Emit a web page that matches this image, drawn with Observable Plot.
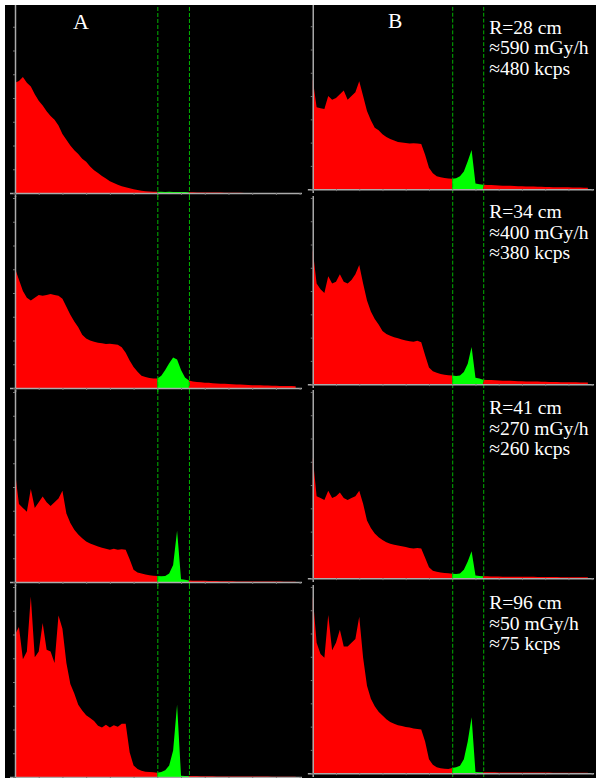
<!DOCTYPE html>
<html><head><meta charset="utf-8">
<script src="https://cdn.jsdelivr.net/npm/d3@7"></script>
<script src="https://cdn.jsdelivr.net/npm/@observablehq/plot@0.6"></script>
<style>
html,body{margin:0;padding:0;background:#fff;}
#wrap{position:relative;width:596px;height:778px;overflow:hidden;background:#000;}
.panel{position:absolute;}
.mask{position:absolute;background:#fff;z-index:5;}
</style></head><body>
<div id="wrap"></div>
<script>
// ---- data ----
const columns = ["A", "B"];
const radii = ["R=28 cm", "R=34 cm", "R=41 cm", "R=96 cm"];
const doseRates = ["≈590 mGy/h", "≈400 mGy/h", "≈270 mGy/h", "≈50 mGy/h"];
const countRates = ["≈480 kcps", "≈380 kcps", "≈260 kcps", "≈75 kcps"];
const windowEdges = [36, 44];           // energy-window limits (channel)
const xTicks = [0, 6, 12, 18, 24, 30, 36, 42, 48, 54, 60, 66, 72];
const yTicks = [0, 12.5, 25, 37.5, 50, 62.5, 75, 87.5, 100];

// spectra, counts in % of panel full scale, channels 0..71
const specA1 = [58, 59, 61, 58, 56, 52, 48.5, 46, 43, 40.5,
  38.5, 35.5, 31, 28, 25, 22.5, 20.5, 18, 16.5, 14,
  12, 10.5, 9, 7.6, 6.2, 5.2, 4.3, 3.6, 3, 2.5,
  2, 1.6, 1.2, 0.9, 0.8, 0.7,
  0.6, 0.6, 0.5, 0.6, 0.5, 0.5, 0.5, 0.5, 0.4,
  0.4, 0.3, 0.3, 0.3, 0.2, 0.2, 0.2, 0.2, 0.1, 0.1, 0.1, 0.1, 0.1, 0, 0, 0, 0, 0, 0, 0, 0, 0, 0, 0, 0, 0, 0];
const specA2 = [63, 57, 51, 47.5, 46, 47.5, 49, 48.5, 49, 49.5,
  49, 48.5, 47, 42.7, 38.5, 35, 32, 28, 26, 25,
  24.3, 23.8, 23.5, 23.2, 23.3, 23, 22.8, 21.5, 18.5, 14.5,
  11, 8.5, 6.5, 5.8, 5.3, 5.0,
  5.0, 6.5, 9.5, 13, 16, 15, 9.5, 5.5, 4.0,
  3.4, 3.2, 3.0, 2.8, 2.7, 2.5, 2.4, 2.3, 2.2, 2.1, 2.0, 1.9, 1.8, 1.7, 1.6, 1.5, 1.5, 1.4, 1.3, 1.3, 1.2, 1.2, 1.1, 1.1, 1.0, 1.0, 0.9];
const specA3 = [58, 41, 39, 37, 49, 39, 42, 45, 42, 40,
  42, 44, 48, 36, 31, 27.5, 25, 23, 21.3, 20.2,
  19.5, 18.7, 18, 17.5, 17, 17.5, 17, 17.3, 17, 12,
  6.5, 5, 4.5, 4, 3.6, 3.3,
  3.1, 3.0, 3.2, 4.5, 9, 27, 1.5, 1.2, 0.8,
  0.7, 0.7, 0.6, 0.6, 0.5, 0.5, 0.5, 0.4, 0.4, 0.4, 0.4, 0.3, 0.3, 0.3, 0.3, 0.3, 0.2, 0.2, 0.2, 0.2, 0.2, 0.2, 0.2, 0.1, 0.1, 0.1, 0.1];
const specA4 = [75, 79, 62, 66, 95, 63, 66, 81, 67, 66,
  60, 85, 78, 60, 49, 44, 38, 35, 32.5, 31,
  29.5, 27, 26, 27.5, 26, 27.2, 26.5, 28, 28, 13,
  6, 4.2, 3.3, 2.8, 2.6, 2.5,
  2.2, 2.6, 3.5, 6, 14, 38, 0.6, 0.5, 0.5,
  0.5, 0.5, 0.4, 0.4, 0.4, 0.4, 0.3, 0.3, 0.3, 0.3, 0.3, 0.3, 0.2, 0.2, 0.2, 0.2, 0.2, 0.2, 0.2, 0.2, 0.1, 0.1, 0.1, 0.1, 0.1, 0.1, 0.1];
const specB1 = [59, 44, 43.5, 43, 50, 48, 49, 51, 53, 48,
  50, 52, 58, 50, 42, 37, 33, 31.6, 29.5, 28,
  27, 26.2, 25.4, 25, 24.8, 24.5, 24.6, 24.5, 24.3, 18.5,
  11.5, 8.5, 7, 6.4, 6, 5.7,
  5.6, 5.8, 7, 9.5, 15, 21, 3, 2.6, 2.4,
  2.3, 2.2, 2.1, 2.0, 1.9, 1.9, 1.8, 1.7, 1.6, 1.6, 1.5, 1.4, 1.4, 1.3, 1.3, 1.2, 1.2, 1.1, 1.1, 1.0, 1.0, 1.0, 0.9, 0.9, 0.9, 0.8, 0.8];
const specB2 = [72, 54, 51, 49, 58, 54, 55, 59, 55, 54,
  56, 59, 64, 54, 45, 39, 35, 32, 28.5, 27,
  26, 25.2, 24.6, 24, 23.5, 23, 22.8, 23.3, 22.5, 15.5,
  9, 7, 6.1, 5.5, 5, 4.8,
  4.6, 4.4, 4.6, 6.5, 11, 20, 3.5, 3, 2.4,
  2.3, 2.2, 2.1, 2.0, 1.9, 1.8, 1.8, 1.7, 1.6, 1.6, 1.5, 1.5, 1.4, 1.4, 1.3, 1.3, 1.2, 1.2, 1.2, 1.1, 1.1, 1.0, 1.0, 1.0, 0.9, 0.9, 0.9];
const specB3 = [65, 44, 43, 42, 47, 43, 44, 46, 43, 42,
  43, 44, 47, 40, 31, 27, 24, 22, 20.5, 19.3,
  18.5, 18, 17.5, 17.2, 16.8, 16.2, 16, 16.2, 16, 11,
  5.8, 4, 3.4, 3.1, 2.8, 2.6,
  2.4, 2.3, 2.5, 4.5, 9, 14.5, 1.5, 1.2, 1.0,
  1.0, 0.9, 0.9, 0.9, 0.8, 0.8, 0.8, 0.8, 0.7, 0.7, 0.7, 0.7, 0.7, 0.6, 0.6, 0.6, 0.6, 0.6, 0.6, 0.5, 0.5, 0.5, 0.5, 0.5, 0.5, 0.5, 0.5];
const specB4 = [95, 70, 64, 62, 85, 66, 70, 77, 68, 68,
  70, 72, 84, 62, 47, 40, 36, 33, 31, 29,
  27.5, 26.5, 25.7, 25.3, 24.8, 24.5, 24, 23.7, 23.5, 17,
  7.5, 4.5, 3.2, 2.7, 2.4, 2.3,
  2.8, 3.2, 4, 7.5, 17, 30, 0.6, 0.5, 0.5,
  0.5, 0.5, 0.5, 0.4, 0.4, 0.4, 0.4, 0.4, 0.3, 0.3, 0.3, 0.3, 0.3, 0.3, 0.3, 0.3, 0.3, 0.2, 0.2, 0.2, 0.2, 0.2, 0.2, 0.2, 0.2, 0.2, 0.2];

const spectraA = [specA1, specA2, specA3, specA4];
const spectraB = [specB1, specB2, specB3, specB4];

// ---- layout / style ----
const RED = "#ff0000", GREEN = "#00ff00", AX = "#ababab", TICK = "#777777", WIN = "#00b400";
const SERIF = "Liberation Serif, Times New Roman, serif";
const rowBase = [193, 388, 582, 777];
const textDy = [16.1, 5.1, 7.1, 7.1];
const wrap = document.getElementById("wrap");

function panel(values, col, row) {
  const data = values.map((v, i) => ({i, v}));
  const lo = windowEdges[0], hi = windowEdges[1];
  const marks = [
    Plot.areaY(data, {x: "i", y: "v", filter: d => d.i <= lo, fill: RED}),
    Plot.areaY(data, {x: "i", y: "v", filter: d => d.i >= lo && d.i <= hi, fill: GREEN}),
    Plot.areaY(data, {x: "i", y: "v", filter: d => d.i >= hi, fill: RED}),
    Plot.ruleX(windowEdges, {stroke: WIN, strokeWidth: 1, strokeDasharray: "4,2", insetTop: -2, insetBottom: -4}),
    Plot.ruleX([0], {stroke: AX, strokeWidth: 1.5, insetTop: -2, insetBottom: -4}),
    Plot.ruleY([0], {stroke: AX, strokeWidth: 1.5, insetLeft: -5}),
    Plot.axisX({ticks: xTicks, tickSize: 2, tickFormat: () => "", label: null, stroke: TICK}),
    Plot.axisY({ticks: yTicks, tickSize: 2, tickFormat: () => "", label: null, stroke: TICK})
  ];
  if (row === 0) {
    marks.push(Plot.text([columns[col]], {text: d => d, frameAnchor: "top-left",
      dx: col === 0 ? 65.5 : 83.7, dy: 9.4, textAnchor: "middle", lineAnchor: "top",
      fill: "white", fontSize: 22, fontFamily: SERIF}));
  }
  if (col === 1) {
    marks.push(Plot.text([`${radii[row]}\n${doseRates[row]}\n${countRates[row]}`], {text: d => d,
      frameAnchor: "top-left", dx: 179.5, dy: textDy[row], textAnchor: "start", lineAnchor: "top",
      lineHeight: 1.05, fill: "white", fontSize: 20, fontFamily: SERIF}));
  }
  const chart = Plot.plot({
    width: col === 0 ? 304 : 302,
    height: 196,
    marginTop: 2, marginBottom: 4,
    marginLeft: col === 0 ? 15 : 13, marginRight: 2,
    x: {domain: [0, 72.6]},
    y: {domain: [0, 100]},
    style: {background: "transparent", overflow: "visible", color: AX},
    marks
  });
  const div = document.createElement("div");
  div.className = "panel";
  div.style.left = (col === 0 ? 0 : 300) + "px";
  div.style.top = (rowBase[row] - 192) + "px";
  div.appendChild(chart);
  wrap.appendChild(div);
}

for (let r = 0; r < 4; r++) {
  panel(spectraA[r], 0, r);
  panel(spectraB[r], 1, r);
}

// white page margin at top and left
const m1 = document.createElement("div"); m1.className = "mask";
Object.assign(m1.style, {left: "0px", top: "0px", width: "596px", height: "5px"});
const m2 = document.createElement("div"); m2.className = "mask";
Object.assign(m2.style, {left: "0px", top: "0px", width: "5px", height: "778px"});
wrap.appendChild(m1); wrap.appendChild(m2);
</script>
</body></html>
